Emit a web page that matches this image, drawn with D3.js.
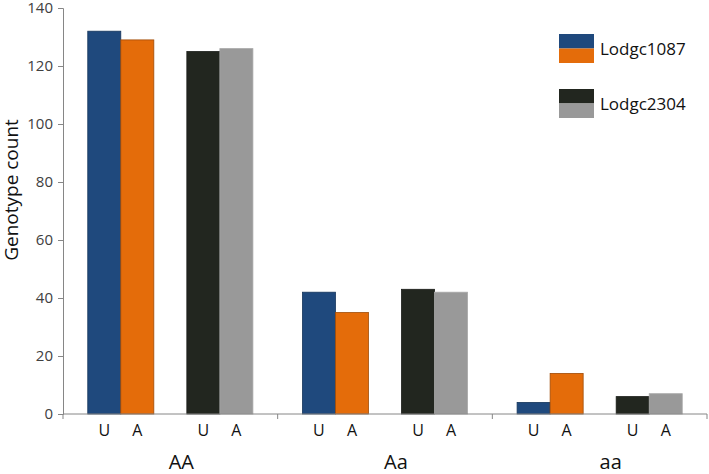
<!DOCTYPE html>
<html>
<head>
<meta charset="utf-8">
<script src="https://cdn.jsdelivr.net/npm/d3@7"></script>
<style>
  body { margin: 0; background: #fff; }
  text { font-family: 'Open Sans', 'Noto Sans', sans-serif; }
</style>
</head>
<body>
<script>
// data
let genotypes = ['AA', 'Aa', 'aa'];
let markers = ['Lodgc1087', 'Lodgc2304'];
let groups = ['U', 'A'];
let lodgc1087 = [[132, 129], [42, 35], [4, 14]];
let lodgc2304 = [[125, 126], [43, 42], [6, 7]];
let yTicks = [0, 20, 40, 60, 80, 100, 120, 140];

let colors = {
    Lodgc1087: ['#1f497d', '#e46c0a'],
    Lodgc2304: ['#22261f', '#999999']
};
let strokes = {
    Lodgc1087: ['#16365c', '#a04c08'],
    Lodgc2304: ['#1a1c18', '#a8a8a8']
};

let width = 709, height = 474;
let margin = {left: 63, right: 2, top: 8, bottom: 60};

let svg = d3.select('body').append('svg').attr('width', width).attr('height', height);

let x0 = d3.scaleBand().domain(genotypes)
    .range([margin.left, width - margin.right]).padding(0);
let x1 = d3.scaleBand().domain(markers)
    .range([0, x0.bandwidth()]).paddingInner(1 / 3).paddingOuter(0.25);
let x2 = d3.scaleBand().domain(groups)
    .range([0, x1.bandwidth()]).padding(0);
let y = d3.scaleLinear().domain([0, 140]).range([414, margin.top]);

// rows for bars
let rows = [];
genotypes.forEach(function(g, i) {
    groups.forEach(function(s, j) {
        rows.push({genotype: g, marker: 'Lodgc1087', group: s, idx: j, value: lodgc1087[i][j]});
        rows.push({genotype: g, marker: 'Lodgc2304', group: s, idx: j, value: lodgc2304[i][j]});
    });
});

svg.selectAll('rect.bar')
    .data(rows)
    .enter().append('rect')
    .attr('class', 'bar')
    .attr('x', function(d) { return x0(d.genotype) + x1(d.marker) + x2(d.group); })
    .attr('y', function(d) { return y(d.value); })
    .attr('width', x2.bandwidth())
    .attr('height', function(d) { return y(0) - y(d.value); })
    .style('fill', function(d) { return colors[d.marker][d.idx]; })
    .style('stroke', function(d) { return strokes[d.marker][d.idx]; })
    .style('stroke-width', 0.8);

// y axis
let yAxis = svg.append('g')
    .attr('transform', 'translate(' + margin.left + ',0)')
    .call(d3.axisLeft(y).tickValues(yTicks).tickSize(5).tickPadding(5));
yAxis.select('.domain').attr('stroke', '#868686');
yAxis.selectAll('.tick line').attr('stroke', '#868686');
yAxis.selectAll('.tick text').attr('fill', '#404040').style('font-size', '15px');

// x axis with category boundary ticks
let xg = svg.append('g');
xg.append('line')
    .attr('x1', margin.left).attr('x2', width - margin.right)
    .attr('y1', y(0)).attr('y2', y(0))
    .attr('stroke', '#868686');
let bounds = genotypes.map(function(g) { return x0(g); }).concat([x0('aa') + x0.bandwidth()]);
xg.selectAll('line.bt')
    .data(bounds)
    .enter().append('line')
    .attr('class', 'bt')
    .attr('x1', function(d) { return d; }).attr('x2', function(d) { return d; })
    .attr('y1', y(0)).attr('y2', y(0) + 5)
    .attr('stroke', '#868686');

// U / A labels
let subLabels = [];
genotypes.forEach(function(g) {
    markers.forEach(function(m) {
        groups.forEach(function(s) { subLabels.push({genotype: g, marker: m, group: s}); });
    });
});
svg.selectAll('text.sub')
    .data(subLabels)
    .enter().append('text')
    .attr('class', 'sub')
    .attr('x', function(d) { return x0(d.genotype) + x1(d.marker) + x2(d.group) + x2.bandwidth() / 2; })
    .attr('y', 436)
    .attr('text-anchor', 'middle')
    .style('font-size', '16px')
    .style('fill', '#111')
    .text(function(d) { return d.group; });

svg.selectAll('text.cat')
    .data(genotypes)
    .enter().append('text')
    .attr('class', 'cat')
    .attr('x', function(d) { return x0(d) + x0.bandwidth() / 2 + 11; })
    .attr('y', 469)
    .attr('text-anchor', 'middle')
    .style('font-size', '20px')
    .style('fill', '#111')
    .text(function(d) { return d; });

// y title
svg.append('text')
    .attr('transform', 'translate(18,190) rotate(-90)')
    .attr('text-anchor', 'middle')
    .style('font-size', '19px')
    .style('fill', '#111')
    .text('Genotype count');

// legend
let legend = svg.selectAll('g.legend')
    .data(markers)
    .enter().append('g')
    .attr('class', 'legend')
    .attr('transform', function(d, i) { return 'translate(559,' + (34 + i * 55) + ')'; });
legend.append('rect')
    .attr('width', 35).attr('height', 14.5)
    .style('fill', function(d) { return colors[d][0]; });
legend.append('rect')
    .attr('y', 14.5)
    .attr('width', 35).attr('height', 14.5)
    .style('fill', function(d) { return colors[d][1]; });
legend.append('text')
    .attr('x', 41).attr('y', 15)
    .attr('dy', '0.35em')
    .style('font-size', '17px')
    .style('fill', '#111')
    .text(function(d) { return d; });
</script>
</body>
</html>
